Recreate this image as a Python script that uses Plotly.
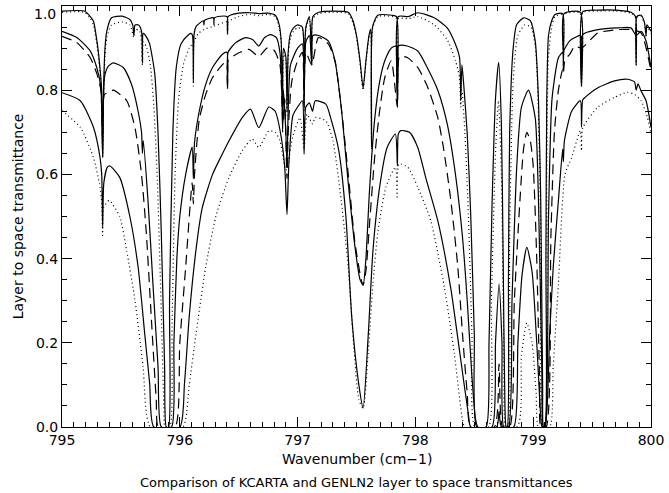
import plotly.graph_objects as go

# ---- data ----
s1_x = [795.00,795.19,795.24,795.267,795.30,795.32,795.337,795.345,795.353,795.365,795.38,795.42,795.51,795.576,795.60,795.61,795.62,795.65,795.675,795.683,795.69,795.72,795.744,795.765,795.787,795.815,795.843,795.871,795.885,795.905,795.913,795.941,795.97,796.01,796.067,796.095,796.108,796.115,796.122,796.14,796.20,796.205,796.21,796.285,796.29,796.295,796.40,796.405,796.41,796.50,796.60,796.67,796.75,796.81,796.84,796.86,796.873,796.88,796.90,796.91,796.92,796.94,796.966,797.00,797.04,797.055,797.07,797.10,797.12,797.13,797.18,797.30,797.43,797.47,797.50,797.53,797.556,797.58,797.606,797.62,797.628,797.636,797.68,797.80,797.84,797.847,797.855,797.94,798.02,798.16,798.27,798.34,798.375,798.385,798.395,798.41,798.44,798.47,798.50,798.52,798.60,798.625,798.65,798.68,798.707,798.73,798.745,798.76,798.77,798.78,798.79,798.80,798.83,798.86,798.92,798.975,799.017,799.045,799.064,799.08,799.087,799.10,799.108,799.115,799.13,799.157,799.185,799.25,799.256,799.262,799.40,799.41,799.42,799.55,799.70,799.83,799.868,799.874,799.88,799.916,799.945,799.958,799.965,800.00]
s1_y = [0.988,0.988,0.975,0.964,0.91,0.86,0.80,0.645,0.80,0.90,0.94,0.972,0.976,0.968,0.955,0.93,0.955,0.955,0.94,0.865,0.935,0.925,0.91,0.88,0.84,0.70,0.46,0.144,0.0,0.0,0.30,0.70,0.854,0.91,0.93,0.935,0.93,0.82,0.935,0.952,0.965,0.955,0.966,0.972,0.955,0.972,0.975,0.935,0.975,0.983,0.984,0.982,0.983,0.978,0.96,0.92,0.75,0.90,0.88,0.75,0.89,0.935,0.948,0.955,0.95,0.80,0.95,0.975,0.87,0.975,0.985,0.988,0.985,0.965,0.93,0.87,0.805,0.87,0.93,0.945,0.664,0.95,0.978,0.978,0.975,0.80,0.975,0.975,0.984,0.972,0.948,0.909,0.877,0.775,0.86,0.814,0.696,0.50,0.22,0.0,0.0,0.20,0.52,0.78,0.866,0.72,0.40,0.05,0.0,0.0,0.35,0.70,0.90,0.956,0.972,0.965,0.917,0.775,0.538,0.10,0.0,0.0,0.40,0.775,0.93,0.965,0.98,0.982,0.885,0.982,0.985,0.814,0.986,0.99,0.99,0.985,0.975,0.86,0.975,0.978,0.96,0.93,0.955,0.94]

d1_x = [795.00,795.19,795.24,795.267,795.30,795.32,795.337,795.345,795.353,795.365,795.38,795.42,795.51,795.576,795.61,795.62,795.66,795.683,795.69,795.72,795.75,795.78,795.81,795.84,795.865,795.875,795.915,795.935,795.96,795.99,796.03,796.08,796.108,796.115,796.122,796.16,796.21,796.29,796.40,796.405,796.41,796.50,796.60,796.67,796.75,796.81,796.84,796.86,796.873,796.88,796.90,796.91,796.92,796.94,796.966,797.00,797.04,797.055,797.07,797.10,797.12,797.13,797.18,797.30,797.43,797.47,797.50,797.53,797.556,797.58,797.606,797.62,797.628,797.636,797.68,797.80,797.84,797.847,797.855,797.94,798.02,798.16,798.27,798.34,798.375,798.385,798.395,798.42,798.45,798.48,798.505,798.62,798.645,798.68,798.705,798.73,798.75,798.765,798.785,798.80,798.83,798.87,798.93,798.98,799.02,799.045,799.065,799.08,799.10,799.115,799.13,799.16,799.185,799.25,799.256,799.262,799.40,799.41,799.42,799.55,799.70,799.83,799.868,799.874,799.88,799.916,799.945,799.958,799.965,800.00]
d1_y = [0.985,0.985,0.97,0.955,0.90,0.85,0.79,0.64,0.79,0.88,0.925,0.955,0.962,0.955,0.925,0.945,0.94,0.86,0.915,0.90,0.86,0.76,0.58,0.30,0.05,0.0,0.0,0.25,0.60,0.78,0.86,0.90,0.91,0.81,0.915,0.935,0.945,0.952,0.962,0.93,0.962,0.975,0.98,0.977,0.98,0.975,0.955,0.915,0.74,0.89,0.87,0.74,0.88,0.925,0.94,0.948,0.945,0.79,0.945,0.97,0.86,0.97,0.982,0.985,0.982,0.96,0.925,0.865,0.80,0.865,0.925,0.94,0.66,0.945,0.975,0.975,0.97,0.80,0.97,0.97,0.975,0.955,0.92,0.87,0.83,0.76,0.80,0.70,0.50,0.22,0.0,0.0,0.30,0.65,0.775,0.60,0.20,0.0,0.0,0.45,0.82,0.93,0.955,0.95,0.90,0.74,0.45,0.0,0.0,0.60,0.88,0.955,0.975,0.98,0.885,0.98,0.983,0.81,0.984,0.988,0.988,0.983,0.973,0.86,0.973,0.975,0.957,0.925,0.95,0.935]

s2_x = [795.00,795.126,795.24,795.295,795.33,795.345,795.36,795.393,795.435,795.52,795.59,795.646,795.675,795.683,795.69,795.73,795.772,795.815,795.843,795.93,795.95,795.975,796.00,796.05,796.105,796.115,796.125,796.165,796.22,796.278,796.36,796.40,796.405,796.41,796.475,796.56,796.62,796.67,796.72,796.77,796.82,796.85,796.866,796.873,796.88,796.90,796.91,796.92,796.94,797.00,797.04,797.055,797.07,797.10,797.12,797.13,797.18,797.26,797.317,797.37,797.43,797.486,797.53,797.556,797.58,797.61,797.654,797.696,797.74,797.795,797.84,797.847,797.855,797.93,798.02,798.10,798.19,798.27,798.34,798.40,798.44,798.48,798.51,798.53,798.65,798.68,798.71,798.735,798.75,798.79,798.82,798.86,798.90,798.96,799.017,799.045,799.073,799.085,799.10,799.13,799.16,799.214,799.25,799.256,799.262,799.31,799.354,799.40,799.41,799.42,799.55,799.72,799.83,799.874,799.916,799.958,800.00]
s2_y = [0.94,0.925,0.893,0.854,0.806,0.64,0.83,0.857,0.865,0.854,0.814,0.75,0.70,0.65,0.68,0.538,0.34,0.144,0.0,0.0,0.20,0.40,0.50,0.60,0.665,0.59,0.675,0.75,0.814,0.854,0.885,0.89,0.81,0.89,0.913,0.925,0.92,0.905,0.925,0.932,0.925,0.89,0.80,0.70,0.80,0.70,0.62,0.75,0.86,0.90,0.91,0.76,0.915,0.93,0.86,0.93,0.93,0.917,0.87,0.76,0.58,0.43,0.35,0.337,0.40,0.56,0.73,0.82,0.87,0.90,0.905,0.763,0.905,0.905,0.893,0.854,0.80,0.72,0.60,0.45,0.30,0.12,0.02,0.0,0.0,0.20,0.34,0.20,0.0,0.0,0.30,0.617,0.76,0.80,0.735,0.538,0.144,0.0,0.0,0.50,0.78,0.877,0.89,0.85,0.895,0.917,0.925,0.93,0.81,0.932,0.944,0.948,0.948,0.93,0.94,0.917,0.854]

l2_x = [795.00,795.126,795.24,795.295,795.33,795.345,795.36,795.40,795.435,795.55,795.62,795.675,795.716,795.758,795.80,795.818,795.96,796.00,796.05,796.105,796.115,796.125,796.165,796.22,796.278,796.36,796.40,796.405,796.41,796.475,796.587,796.67,796.74,796.80,796.85,796.875,796.89,796.91,796.92,796.95,797.00,797.04,797.055,797.07,797.12,797.177,797.26,797.317,797.37,797.43,797.486,797.54,797.556,797.58,797.61,797.654,797.696,797.74,797.795,797.847,797.865,797.935,798.02,798.10,798.19,798.24,798.30,798.36,798.40,798.44,798.47,798.67,798.71,798.74,798.80,798.84,798.89,798.918,798.946,798.975,799.00,799.03,799.055,799.065,799.11,799.15,799.18,799.214,799.25,799.256,799.27,799.31,799.354,799.41,799.55,799.72,799.83,799.916,800.00]
l2_y = [0.928,0.913,0.877,0.84,0.80,0.68,0.79,0.795,0.80,0.775,0.71,0.60,0.46,0.26,0.065,0.0,0.0,0.20,0.38,0.58,0.53,0.60,0.73,0.79,0.83,0.86,0.87,0.80,0.87,0.885,0.897,0.88,0.90,0.895,0.86,0.72,0.78,0.59,0.70,0.82,0.87,0.89,0.75,0.89,0.86,0.925,0.91,0.87,0.76,0.60,0.44,0.35,0.337,0.37,0.48,0.64,0.75,0.83,0.87,0.76,0.88,0.877,0.854,0.81,0.735,0.66,0.54,0.38,0.22,0.08,0.0,0.0,0.15,0.0,0.0,0.30,0.55,0.66,0.70,0.68,0.62,0.40,0.10,0.0,0.0,0.45,0.70,0.80,0.85,0.84,0.873,0.885,0.905,0.90,0.936,0.944,0.944,0.936,0.845]

s3_x = [795.00,795.155,795.267,795.323,795.337,795.345,795.355,795.385,795.407,795.49,795.576,795.646,795.702,795.744,795.78,796.00,796.04,796.08,796.137,796.19,796.278,796.36,796.418,796.53,796.60,796.67,796.755,796.81,796.854,796.89,796.91,796.925,796.96,797.00,797.04,797.055,797.07,797.10,797.127,797.15,797.24,797.28,797.35,797.41,797.46,797.52,797.556,797.60,797.64,797.70,797.76,797.83,797.847,797.855,797.875,797.95,798.02,798.09,798.19,798.30,798.38,798.45,798.47,798.69,798.71,798.73,798.835,798.87,798.905,798.946,798.99,799.03,799.065,799.075,799.10,799.14,799.17,799.214,799.25,799.256,799.265,799.326,799.40,799.41,799.42,799.44,799.55,799.69,799.80,799.86,799.874,799.89,799.916,799.958,800.00]
s3_y = [0.794,0.775,0.712,0.64,0.60,0.471,0.58,0.617,0.62,0.593,0.50,0.38,0.222,0.104,0.0,0.0,0.104,0.262,0.42,0.52,0.60,0.648,0.68,0.735,0.755,0.711,0.76,0.75,0.70,0.62,0.505,0.62,0.74,0.76,0.775,0.648,0.76,0.77,0.75,0.775,0.767,0.735,0.656,0.50,0.26,0.10,0.045,0.22,0.42,0.577,0.664,0.696,0.62,0.696,0.704,0.70,0.664,0.59,0.49,0.33,0.17,0.03,0.0,0.0,0.037,0.0,0.0,0.20,0.36,0.427,0.37,0.20,0.02,0.0,0.0,0.222,0.38,0.538,0.66,0.63,0.68,0.75,0.775,0.712,0.777,0.783,0.806,0.822,0.826,0.82,0.80,0.815,0.798,0.775,0.712]

d3_x = [795.00,795.155,795.267,795.323,795.338,795.345,795.352,795.40,795.49,795.548,795.62,795.688,795.75,796.025,796.08,796.137,796.22,796.306,796.418,796.53,796.615,796.67,796.755,796.81,796.85,796.90,796.92,796.96,797.02,797.055,797.08,797.127,797.15,797.24,797.30,797.37,797.43,797.48,797.52,797.556,797.60,797.64,797.68,797.75,797.83,797.845,797.86,797.935,798.02,798.13,798.245,798.33,798.40,798.42,798.862,798.90,798.946,798.99,799.025,799.045,799.14,799.17,799.214,799.27,799.326,799.40,799.41,799.42,799.55,799.69,799.80,799.86,799.916,799.97,800.00]
d3_y = [0.751,0.712,0.64,0.57,0.53,0.455,0.52,0.538,0.50,0.42,0.30,0.144,0.0,0.0,0.10,0.22,0.38,0.50,0.593,0.656,0.684,0.664,0.703,0.70,0.68,0.61,0.63,0.69,0.735,0.66,0.743,0.72,0.735,0.727,0.68,0.538,0.38,0.18,0.065,0.045,0.18,0.34,0.46,0.57,0.617,0.546,0.625,0.617,0.57,0.49,0.333,0.175,0.017,0.0,0.0,0.17,0.247,0.20,0.08,0.0,0.0,0.144,0.34,0.60,0.64,0.704,0.656,0.71,0.76,0.783,0.795,0.79,0.775,0.735,0.696]

x_ticks = [795, 796, 797, 798, 799, 800]
y_ticks = [0.0, 0.2, 0.4, 0.6, 0.8, 1.0]
y_tick_text = ["0.0", "0.2", "0.4", "0.6", "0.8", ""]

FONT = "DejaVu Sans"
fig = go.Figure()

series = [
    (s1_x, s1_y, "solid"),
    (d1_x, d1_y, "1px,3px"),
    (s2_x, s2_y, "solid"),
    (l2_x, l2_y, "10px,6px"),
    (s3_x, s3_y, "solid"),
    (d3_x, d3_y, "1px,3px"),
]
for xs, ys, dash in series:
    fig.add_trace(go.Scatter(x=xs, y=ys, mode="lines",
                             line=dict(color="black", width=1.2, dash=dash,
                                       shape="spline", smoothing=0.6),
                             showlegend=False, hoverinfo="skip"))

axis_common = dict(showline=True, linecolor="black", linewidth=1, mirror="ticks",
                   ticks="inside", tickcolor="black", tickwidth=1,
                   showgrid=False, zeroline=False,
                   tickfont=dict(family=FONT, size=14, color="black"))

fig.update_xaxes(range=[795, 800], tickvals=x_ticks, ticklen=10,
                 minor=dict(dtick=0.1, tick0=795, ticklen=5, ticks="inside", tickcolor="black", showgrid=False),
                 **axis_common)
fig.update_yaxes(range=[0, 1.0], tickvals=y_ticks, ticktext=y_tick_text, ticklen=10,
                 minor=dict(dtick=0.05, tick0=0, ticklen=5, ticks="inside", tickcolor="black", showgrid=False),
                 **axis_common)

fig.update_layout(
    width=669, height=493,
    margin=dict(l=62, r=14, t=5, b=66),
    paper_bgcolor="white", plot_bgcolor="white",
    font=dict(family=FONT, color="black"),
    annotations=[
        dict(text="1.0", xref="paper", yref="paper", x=-0.006, y=0.982,
             xanchor="right", yanchor="middle", showarrow=False,
             font=dict(family=FONT, size=14, color="black")),
        dict(text="Wavenumber (cm\u22121)", xref="paper", yref="paper", x=0.5, y=-0.077,
             xanchor="center", yanchor="middle", showarrow=False,
             font=dict(family=FONT, size=14, color="black")),
        dict(text="Comparison of KCARTA and GENLN2 layer to space transmittances",
             xref="paper", yref="paper", x=0.5, y=-0.132,
             xanchor="center", yanchor="middle", showarrow=False,
             font=dict(family=FONT, size=13, color="black")),
        dict(text="Layer to space transmittance", xref="paper", yref="paper",
             x=-0.075, y=0.5, xanchor="center", yanchor="middle", textangle=-90,
             showarrow=False, font=dict(family=FONT, size=14, color="black")),
    ],
)

fig.write_html("out.html")
